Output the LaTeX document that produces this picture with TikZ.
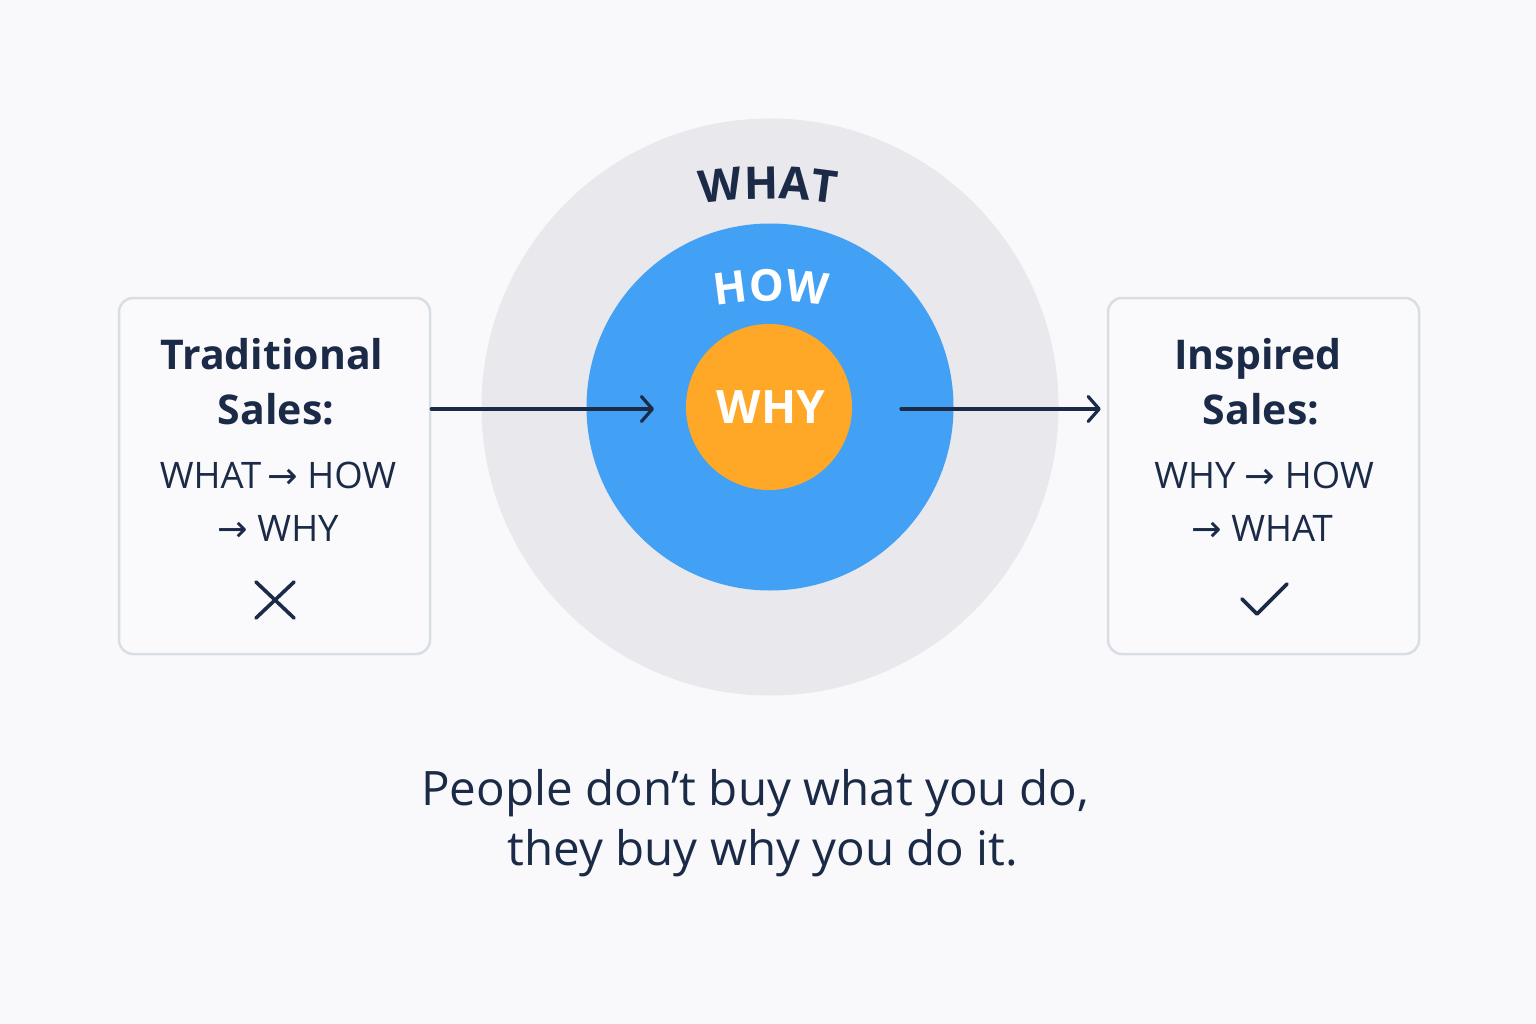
\documentclass[tikz,border=0pt]{standalone}
\usepackage{fontspec}
\setmainfont{Open Sans}
\newfontfamily\symfont{DejaVu Sans}
\newcommand{\rarr}{{\symfont\char"2192}}
\usetikzlibrary{arrows.meta,decorations.text}
\definecolor{bgcol}{HTML}{F9F9FB}
\definecolor{outercol}{HTML}{E8E8ED}
\definecolor{bluecol}{HTML}{43A1F5}
\definecolor{orangecol}{HTML}{FFA726}
\definecolor{navy}{HTML}{1B2B47}
\definecolor{bordercol}{HTML}{D9DDE4}
\definecolor{boxfill}{HTML}{FAFAFC}
\begin{document}
\begin{tikzpicture}[x=1pt,y=1pt,
  ring/.style={circle,inner sep=0pt,draw=none},
  salesbox/.style={draw=bordercol,fill=boxfill,line width=2.5pt,rounded corners=14pt,minimum width=311pt,minimum height=356pt,inner sep=0pt},
  headtxt/.style={anchor=base,text=navy,font=\fontsize{41}{46}\selectfont\bfseries,inner sep=0pt},
  seqtxt/.style={anchor=base,text=navy,font=\fontsize{36.5}{40}\selectfont,inner sep=0pt},
  quotetxt/.style={anchor=base,text=navy,font=\fontsize{47.5}{52}\selectfont,inner sep=0pt},
  arr/.style={draw=navy,line width=3.2pt,line cap=round,-{Straight Barb[length=11pt,width=25pt,round]}},
  sym/.style={draw=navy,line width=3.6pt,line cap=round,line join=round}]
\fill[bgcol] (0,0) rectangle (1536,-1024);
\useasboundingbox (0,0) rectangle (1536,-1024);
% circles
\node[ring,fill=outercol,minimum size=577pt] (what) at (770,-407) {};
\node[ring,fill=bluecol,minimum size=367pt] (how) at (770,-407) {};
\node[ring,fill=orangecol,minimum size=166pt] (why) at (769,-407) {};
\node[text=white,font=\fontsize{46}{46}\selectfont\bfseries,inner sep=0pt] (whylbl) at (771,-407) {WHY};
% curved labels
\path[decorate,decoration={text along path,text align=center,
  text={|\fontsize{45}{45}\selectfont\bfseries\color{navy}|WHAT}}]
  (768,-619) ++(106:420) arc[start angle=106,end angle=74,radius=420];
\path[decorate,decoration={text along path,text align=center,
  text={|\fontsize{44}{44}\selectfont\bfseries\color{white}|HOW}}]
  (771,-601) ++(115:300) arc[start angle=115,end angle=65,radius=300];
% boxes
\node[salesbox] (trad) at (274.5,-476) {};
\node[salesbox] (insp) at (1263.5,-476) {};
\node[headtxt] (t1) at (272,-369) {Traditional};
\node[headtxt] (t2) at (276,-424) {Sales:};
\node[seqtxt] (t3) at (278,-488) {WHAT\,\rarr\ HOW};
\node[seqtxt] (t4) at (278,-541) {\rarr\ WHY};
\node[headtxt] (i1) at (1258,-369) {Inspired};
\node[headtxt] (i2) at (1261,-424) {Sales:};
\node[seqtxt] (i3) at (1264,-488) {WHY \rarr\ HOW};
\node[seqtxt] (i4) at (1262,-541) {\rarr\ WHAT};
% marks
\draw[sym] (256,-582) -- (294,-618) (294,-582) -- (256,-618);
\draw[sym] (1242,-599) -- (1257,-614) -- (1287,-584);
% arrows
\coordinate (a1end) at (654,-409);
\coordinate (a2start) at (901,-409);
\draw[arr] (trad.east |- a1end) -- (a1end);
\draw[arr,shorten >=6pt] (a2start) -- (insp.west |- a2start);
% quote
\node[quotetxt] (q1) at (755,-805) {People don’t buy what you do,};
\node[quotetxt] (q2) at (763,-865) {they buy why you do it.};
\end{tikzpicture}
\end{document}
